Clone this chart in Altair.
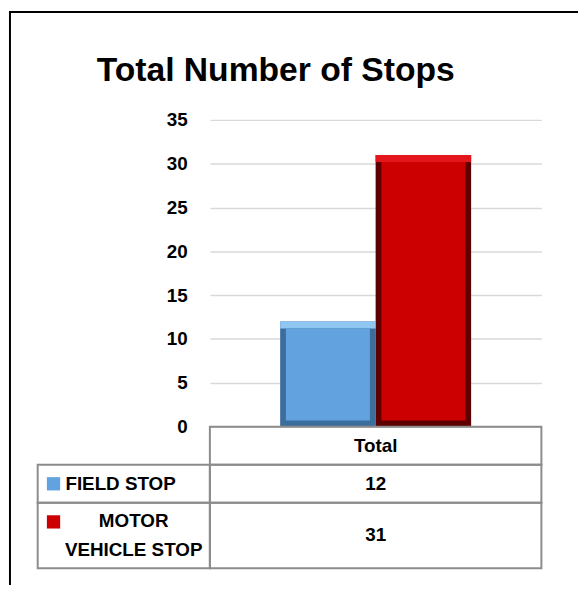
import altair as alt
import pandas as pd

# ---- data ----
chart_title = "Total Number of Stops"
series = ["FIELD STOP", "MOTOR VEHICLE STOP"]
label_lines = [["FIELD STOP"], ["MOTOR", "VEHICLE STOP"]]
values = [12, 31]
column_name = "Total"
y_ticks = [0, 5, 10, 15, 20, 25, 30, 35]

# ---- styles ----
FONT = "Liberation Sans"
main_colors = ["#62a3df", "#cc0000"]
light_colors = ["#8fc6f2", "#e3161c"]
dark_colors = ["#3b6d9d", "#5e0000"]
GRID = "#d9d9d9"
BORDER = "#8c8c8c"
BEVEL_TOP = 0.8      # bevel depth in axis units (~7 px)
BEVEL_BOTTOM = 0.7   # (~6 px)

bars = pd.DataFrame({"series": series, "value": values})

x_enc = alt.X("series:N", sort=series,
              scale=alt.Scale(paddingInner=0, paddingOuter=0.736), axis=None)
y_axis = alt.Axis(values=y_ticks, grid=True, gridColor=GRID, gridWidth=1.5,
                  domain=False, ticks=False, labelPadding=23, labelFont=FONT,
                  labelFontSize=19, labelFontWeight="bold", labelColor="black",
                  title=None)
y_scale = alt.Scale(domain=[0, 35], nice=False)


def col(rng):
    return alt.Color("series:N", scale=alt.Scale(domain=series, range=rng), legend=None)


base = alt.Chart(bars).transform_calculate(
    inner_top=f"datum.value - {BEVEL_TOP}", inner_bottom=f"{BEVEL_BOTTOM}")
b_dark = base.mark_bar().encode(
    x=x_enc, y=alt.Y("value:Q", scale=y_scale, axis=y_axis), color=col(dark_colors))
b_light = base.mark_bar().encode(
    x=x_enc, y="value:Q", y2="inner_top:Q", color=col(light_colors))
b_main = base.mark_bar(width=alt.RelativeBandSize(0.88)).encode(
    x=x_enc, y="inner_top:Q", y2="inner_bottom:Q", color=col(main_colors))

one = alt.Data(values=[{"k": 0}])
frame_top = alt.Chart(one).mark_rule(color="black", strokeWidth=2).encode(
    x=alt.value(-203), x2=alt.value(372), y=alt.value(-109))
frame_left = alt.Chart(one).mark_rule(color="black", strokeWidth=2).encode(
    x=alt.value(-202), y=alt.value(-109), y2=alt.value(470))

top = alt.layer(b_dark, b_light, b_main, frame_top, frame_left).resolve_scale(
    color="independent").properties(width=335, height=310)

# ---- data table ----
row_names = ["header"] + series
cells = [column_name] + [str(v) for v in values]
n_lines = [1] + [len(l) for l in label_lines]
heights = [n + 0.4 for n in n_lines]
y0 = []
acc = 0.0
for h in heights:
    y0.append(acc)
    acc += h
total_units = acc
table = pd.DataFrame({
    "row": row_names,
    "series": [""] + series,
    "cell": cells,
    "col": column_name,
    "y0": y0,
    "y1": [a + h for a, h in zip(y0, heights)],
    "ymid": [a + h / 2 for a, h in zip(y0, heights)],
    "sq": [a + 0.7 for a in y0],
    "lines": [[""]] + label_lines,
    "nlines": n_lines,
})

ty = alt.Scale(domain=[0, total_units], reverse=True, nice=False, zero=False)
tx = alt.X("col:N", scale=alt.Scale(paddingInner=0, paddingOuter=0), axis=None)
tb = alt.Chart(table)

right_cells = tb.mark_rect(fillOpacity=0, stroke=BORDER, strokeWidth=2).encode(
    x=tx, y=alt.Y("y0:Q", scale=ty, axis=None), y2="y1:Q")
right_text = tb.mark_text(font=FONT, fontSize=19, fontWeight="bold", color="black",
                          baseline="middle").encode(
    x=tx, y=alt.Y("ymid:Q", scale=ty, axis=None), text="cell:N")

rows_only = tb.transform_filter(alt.datum.row != "header")
left_cells = rows_only.mark_rect(fillOpacity=0, stroke=BORDER, strokeWidth=2).encode(
    x=alt.value(-174), x2=alt.value(0),
    y=alt.Y("y0:Q", scale=ty, axis=None), y2="y1:Q")
label_single = rows_only.transform_filter(alt.datum.nlines == 1).mark_text(
    font=FONT, fontSize=19, fontWeight="bold", color="black", align="left",
    baseline="middle").encode(
    x=alt.value(-146), y=alt.Y("ymid:Q", scale=ty, axis=None), text="lines")
label_multi = rows_only.transform_filter(alt.datum.nlines > 1).mark_text(
    font=FONT, fontSize=19, fontWeight="bold", color="black", align="center",
    baseline="middle", lineHeight=29, dy=-14.5).encode(
    x=alt.value(-77), y=alt.Y("ymid:Q", scale=ty, axis=None), text="lines")
squares = rows_only.mark_square(size=180, opacity=1).encode(
    x=alt.value(-158), y=alt.Y("sq:Q", scale=ty, axis=None),
    color=alt.Color("series:N", scale=alt.Scale(domain=series, range=main_colors),
                    legend=None))

bottom = alt.layer(right_cells, right_text, left_cells, label_single, label_multi,
                   squares).properties(width=335, height=143)

chart = alt.vconcat(top, bottom, spacing=0, bounds="flush").resolve_scale(
    color="independent", x="independent", y="independent").properties(
    padding=0,
    title=alt.TitleParams(text=chart_title, font=FONT, fontSize=34,
                          fontWeight="bold", color="black", anchor="middle",
                          offset=-78, dx=-18),
).configure_view(stroke=None)

chart.save("out.html", embed_options={"renderer": "svg", "actions": False})
